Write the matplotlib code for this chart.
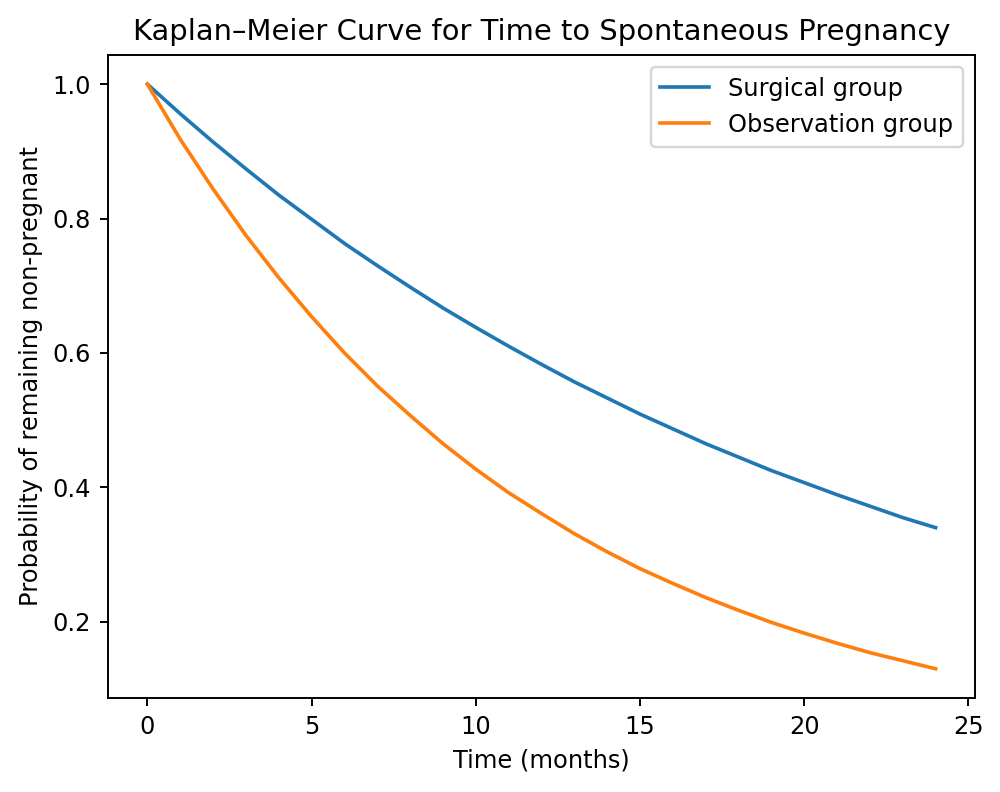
import matplotlib
matplotlib.use("Agg")
import matplotlib.pyplot as plt

# months since start
months = list(range(25))

# values
surgical = [1.000, 0.956, 0.914, 0.874, 0.835, 0.799, 0.763, 0.730, 0.698,
            0.667, 0.638, 0.610, 0.583, 0.557, 0.533, 0.509, 0.487, 0.465,
            0.445, 0.425, 0.407, 0.389, 0.372, 0.355, 0.340]
observation = [1.000, 0.918, 0.844, 0.775, 0.712, 0.654, 0.600, 0.551, 0.507,
               0.465, 0.427, 0.392, 0.361, 0.331, 0.304, 0.279, 0.257, 0.236,
               0.217, 0.199, 0.183, 0.168, 0.154, 0.142, 0.130]

dpi = 174.2
fig, ax = plt.subplots(figsize=(1000 / dpi, 792 / dpi), dpi=dpi)
fig.subplots_adjust(left=0.108, right=0.975, top=0.9306, bottom=0.1187)

ax.plot(months, surgical, label="Surgical group")
ax.plot(months, observation, label="Observation group")

ax.set_title("Kaplan\u2013Meier Curve for Time to Spontaneous Pregnancy")
ax.set_xlabel("Time (months)")
ax.set_ylabel("Probability of remaining non-pregnant")
ax.legend()

fig.savefig("out.png", dpi=dpi)
